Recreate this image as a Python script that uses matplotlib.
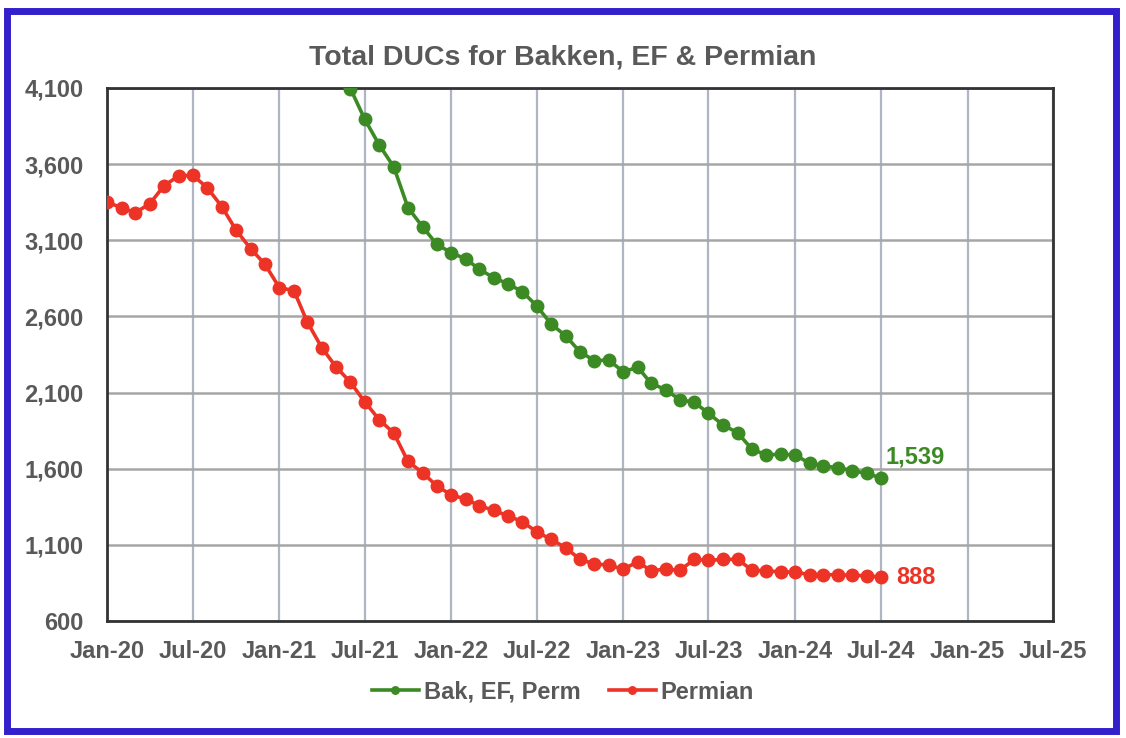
import matplotlib
matplotlib.use("Agg")
import matplotlib.pyplot as plt
import matplotlib.dates as mdates
from matplotlib.patches import Rectangle
from matplotlib.ticker import FuncFormatter
import pandas as pd

# monthly DUC counts
permian_months = pd.date_range("2020-01-01", "2024-07-01", freq="MS")
permian = [3350, 3314, 3281, 3340, 3458, 3522, 3527, 3445, 3320, 3167, 3045, 2944,
           2789, 2769, 2565, 2395, 2270, 2167, 2040, 1922, 1834, 1648, 1574, 1488,
           1427, 1401, 1357, 1327, 1291, 1252, 1186, 1136, 1081, 1005, 974, 968,
           940, 989, 930, 941, 932, 1005, 998, 1005, 1005, 935, 928, 924,
           920, 905, 905, 903, 900, 898, 888]

total_months = pd.date_range("2021-06-01", "2024-07-01", freq="MS")
total = [4095, 3896, 3726, 3581, 3314, 3189, 3074,
         3018, 2977, 2911, 2854, 2815, 2762, 2670, 2550, 2472, 2368, 2309, 2314,
         2237, 2266, 2161, 2119, 2053, 2036, 1964, 1887, 1836, 1729, 1690, 1696,
         1690, 1635, 1618, 1607, 1587, 1570, 1539]

GREEN = "#3C8A24"
RED = "#EC3326"
GRAY = "#595959"

plt.rcParams["font.family"] = ["Liberation Sans", "DejaVu Sans"]
plt.rcParams["font.weight"] = "bold"

fig = plt.figure(figsize=(11.26, 7.38), dpi=100)
ax = fig.add_axes([0.095, 0.1585, 0.84, 0.7223])

ax.plot(total_months, total, color=GREEN, lw=2.6, marker="o", ms=9,
        label="Bak, EF, Perm", zorder=3)
ax.plot(permian_months, permian, color=RED, lw=2.6, marker="o", ms=9,
        label="Permian", zorder=3)

ax.annotate(f"{total[-1]:,}", (total_months[-1], total[-1]), xytext=(3, 15),
            textcoords="offset points", color=GREEN, fontsize=17,
            fontweight="bold", va="center")
ax.annotate(f"{permian[-1]:,}", (permian_months[-1], permian[-1]), xytext=(11, 0),
            textcoords="offset points", color=RED, fontsize=17,
            fontweight="bold", va="center")

ax.set_xlim(pd.Timestamp("2020-01-01"), pd.Timestamp("2025-07-01"))
ax.set_ylim(600, 4100)
ax.set_yticks(range(600, 4101, 500))
ax.yaxis.set_major_formatter(FuncFormatter(lambda v, p: f"{int(v):,}"))
ax.xaxis.set_major_locator(mdates.MonthLocator(bymonth=[1, 7]))
ax.xaxis.set_major_formatter(mdates.DateFormatter("%b-%y"))

ax.grid(axis="x", color="#AEB6C4", lw=1.6)
ax.grid(axis="y", color="#A6A6A6", lw=1.8)
ax.set_axisbelow(True)
for s in ax.spines.values():
    s.set_color("#333333")
    s.set_linewidth(2)
ax.tick_params(length=0, labelsize=17, colors=GRAY)
ax.tick_params(axis="x", pad=14)
ax.tick_params(axis="y", pad=17)
for lab in ax.get_xticklabels() + ax.get_yticklabels():
    lab.set_fontweight("bold")

fig.suptitle("Total DUCs for Bakken, EF & Permian", y=0.94, fontsize=20.5,
             fontweight="bold", color=GRAY)

leg = fig.legend(loc="center", bbox_to_anchor=(0.5, 0.062), ncol=2, frameon=False,
                 fontsize=17, handlelength=2.0, handletextpad=0.2, columnspacing=1.2,
                 markerscale=0.6)
for t in leg.get_texts():
    t.set_color(GRAY)
    t.set_fontweight("bold")

fig.patches.append(Rectangle((0.006, 0.01), 0.985, 0.975, transform=fig.transFigure,
                             fill=False, edgecolor="#3320CC", lw=5))

fig.savefig("out.png", dpi=100)
